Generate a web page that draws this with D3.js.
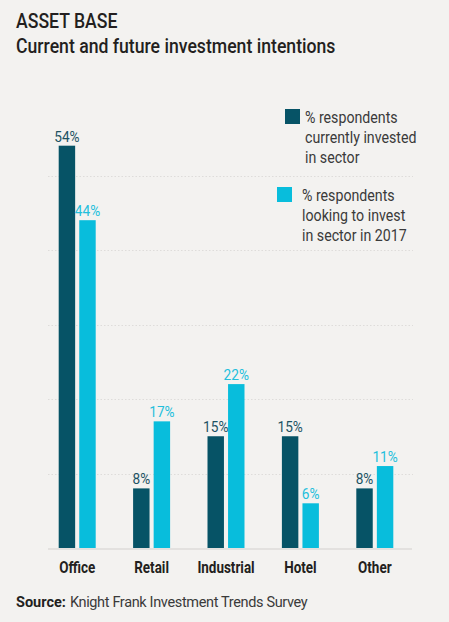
<!DOCTYPE html>
<html>
<head>
<meta charset="utf-8">
<script src="https://cdn.jsdelivr.net/npm/d3@7"></script>
<style>
  body { margin: 0; background: #f3f2f0; }
  svg { display: block; font-family: "Roboto", "Liberation Sans", sans-serif; }
</style>
</head>
<body>
<div id="chart"></div>
<script>
// data
const sectors = ['Office', 'Retail', 'Industrial', 'Hotel', 'Other'];
const currentlyInvested = [54, 8, 15, 15, 8];
const lookingToInvest = [44, 17, 22, 6, 11];
const gridTicks = [10, 20, 30, 40, 50];

const seriesNames = ['current', 'future'];
const colors = { current: '#065366', future: '#08bddc' };

const W = 449, H = 622;
const margin = { top: 101, left: 40, right: 37, bottom: 74 };
const baseY = H - margin.bottom;

// the original uses a condensed face, squeeze Roboto to fit
function condense(sel, k) {
  sel.each(function () {
    const w = this.getComputedTextLength();
    this.setAttribute('textLength', w * k);
    this.setAttribute('lengthAdjust', 'spacingAndGlyphs');
  });
}

const svg = d3.select('#chart').append('svg')
  .attr('width', W).attr('height', H);

svg.append('rect').attr('width', W).attr('height', H).attr('fill', '#f3f2f0');

// title
svg.append('text').attr('class', 'ttl').attr('x', 16).attr('y', 28)
  .attr('font-size', 21).attr('font-weight', 500).attr('fill', '#231f20')
  .text('ASSET BASE');
svg.append('text').attr('class', 'ttl').attr('x', 16).attr('y', 53)
  .attr('font-size', 21).attr('font-weight', 500).attr('fill', '#231f20')
  .text('Current and future investment intentions');
condense(svg.selectAll('.ttl'), 0.84);

const x = d3.scaleBand().domain(sectors).range([margin.left, W - margin.right]);
const y = d3.scaleLinear().domain([0, 60]).range([baseY, margin.top]);
const xs = d3.scaleBand().domain(seriesNames).range([0, 37]).paddingInner(0.2);

// dotted grid
svg.append('g').selectAll('line').data(gridTicks).enter().append('line')
  .attr('x1', 48).attr('x2', 413)
  .attr('y1', d => Math.round(y(d)) + 0.5).attr('y2', d => Math.round(y(d)) + 0.5)
  .attr('stroke', '#dedcda').attr('stroke-width', 1.2)
  .attr('stroke-dasharray', '1.5,2');

// legend
const legend = [
  { key: 'current', sx: 285, sy: 109, tx: 305, ty: 123,
    lines: ['% respondents', 'currently invested', 'in sector'] },
  { key: 'future', sx: 277, sy: 187, tx: 302, ty: 201,
    lines: ['% respondents', 'looking to invest', 'in sector in 2017'] }
];
legend.forEach(l => {
  svg.append('rect').attr('x', l.sx).attr('y', l.sy).attr('width', 15).attr('height', 15)
    .attr('fill', colors[l.key]);
  l.lines.forEach((s, i) => {
    svg.append('text').attr('class', 'leg')
      .attr('x', l.tx).attr('y', l.ty + i * 20)
      .attr('font-size', 16.5).attr('fill', '#3a3a3a')
      .text(s);
  });
});
condense(svg.selectAll('.leg'), 0.86);

const rows = sectors.map((s, i) => ({
  sector: s,
  values: [
    { key: 'current', value: currentlyInvested[i] },
    { key: 'future', value: lookingToInvest[i] }
  ]
}));

const groups = svg.append('g').selectAll('g').data(rows).enter().append('g')
  .attr('transform', d => `translate(${x(d.sector) + x.bandwidth() / 2 - 18.5},0)`);

groups.selectAll('rect').data(d => d.values).enter().append('rect')
  .attr('x', d => xs(d.key))
  .attr('width', xs.bandwidth())
  .attr('y', d => y(d.value))
  .attr('height', d => baseY - y(d.value))
  .attr('fill', d => colors[d.key]);

const vals = groups.selectAll('text').data(d => d.values).enter().append('text')
  .attr('x', d => xs(d.key) + xs.bandwidth() / 2)
  .attr('y', d => y(d.value) - 4)
  .attr('text-anchor', 'middle')
  .attr('font-size', 15.5)
  .attr('fill', d => d.key === 'current' ? '#1d5264' : '#23bfdc')
  .text(d => d.value + '%');
condense(vals, 0.88);

// baseline
svg.append('line').attr('x1', 48).attr('x2', 412)
  .attr('y1', baseY + 1).attr('y2', baseY + 1)
  .attr('stroke', '#e3e1df').attr('stroke-width', 2);

// category axis
const xAxis = svg.append('g')
  .attr('transform', `translate(0,${baseY})`)
  .call(d3.axisBottom(x).tickSize(0).tickPadding(0));
xAxis.select('.domain').remove();
xAxis.selectAll('text')
  .attr('y', 25).attr('dy', null)
  .attr('font-size', 16).attr('font-weight', 'bold').attr('fill', '#231f20')
  .style('font-family', '"Roboto", sans-serif');
condense(xAxis.selectAll('text'), 0.84);

// source (two texts, the second placed after the bold label)
const srcLabel = svg.append('text').attr('x', 16).attr('y', 607)
  .attr('font-size', 14.5).attr('font-weight', 'bold').attr('fill', '#231f20')
  .text('Source:');
const labelW = srcLabel.node().getComputedTextLength();
svg.append('text').attr('x', 16 + labelW + 4).attr('y', 607)
  .attr('font-size', 14.5).attr('fill', '#3a3a3a')
  .attr('letter-spacing', -0.35)
  .text('Knight Frank Investment Trends Survey');
</script>
</body>
</html>
